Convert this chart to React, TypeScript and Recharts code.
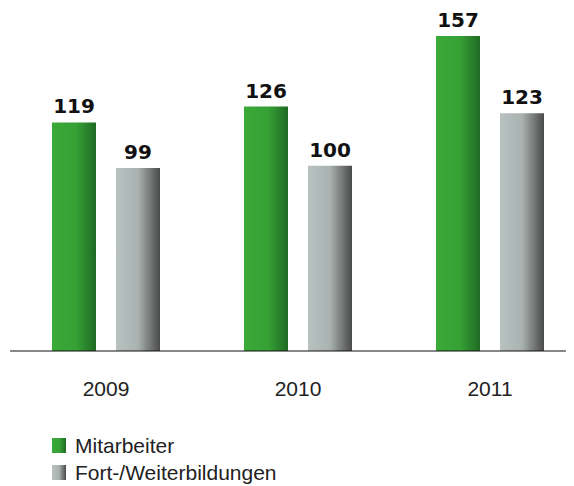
import { BarChart, Bar, XAxis, YAxis, LabelList } from 'recharts';

const years = ['2009', '2010', '2011'];
const mitarbeiter = [119, 126, 157];
const weiterbildungen = [99, 100, 123];

const data = years.map((year, i) => ({
  year,
  mitarbeiter: mitarbeiter[i],
  weiterbildungen: weiterbildungen[i],
}));

const labelStyle = {
  fontFamily: '"DejaVu Sans", sans-serif',
  fontWeight: 700,
  fontSize: 20,
  fill: '#111',
};

const legendItems = [
  { name: 'Mitarbeiter', grad: 'linear-gradient(to right, #3aaa38 0%, #36a035 55%, #1f6a24 100%)' },
  { name: 'Fort-/Weiterbildungen', grad: 'linear-gradient(to right, #b8c2c0 0%, #a9b2b0 50%, #4a4a4a 100%)' },
];

export default function App() {
  return (
    <div style={{ fontFamily: '"Liberation Sans", Arial, sans-serif' }}>
      <style>{'body { overflow: hidden; }'}</style>
      <div style={{ width: 578, height: 403 }}>
        <BarChart
          width={578}
          height={403}
          data={data}
          margin={{ top: 2, right: 0, left: 2, bottom: 0 }}
          barCategoryGap={42}
          barGap={20}
        >
          <defs>
            <linearGradient id="gGreen" x1="0" y1="0" x2="1" y2="0">
              <stop offset="0%" stopColor="#3aaa38" />
              <stop offset="55%" stopColor="#36a035" />
              <stop offset="100%" stopColor="#1f6a24" />
            </linearGradient>
            <linearGradient id="gGray" x1="0" y1="0" x2="1" y2="0">
              <stop offset="0%" stopColor="#b8c2c0" />
              <stop offset="50%" stopColor="#a9b2b0" />
              <stop offset="100%" stopColor="#4a4a4a" />
            </linearGradient>
          </defs>
          <XAxis
            dataKey="year"
            height={60}
            tickLine={false}
            axisLine={{ stroke: '#111', strokeWidth: 1.2 }}
            tickMargin={24}
            tick={{ fontSize: 21, fill: '#222', fontFamily: '"Liberation Sans", Arial, sans-serif' }}
          />
          <YAxis hide domain={[18.6, 168.4]} allowDataOverflow />
          <Bar dataKey="mitarbeiter" fill="url(#gGreen)" barSize={44} isAnimationActive={false}>
            <LabelList dataKey="mitarbeiter" position="top" offset={9} style={labelStyle} />
          </Bar>
          <Bar dataKey="weiterbildungen" fill="url(#gGray)" barSize={44} isAnimationActive={false}>
            <LabelList dataKey="weiterbildungen" position="top" offset={9} style={labelStyle} />
          </Bar>
        </BarChart>
      </div>
      <div style={{ marginTop: 21, marginLeft: 44 }}>
        {legendItems.map((item) => (
          <div key={item.name} style={{ display: 'flex', alignItems: 'center', height: 27 }}>
            <span style={{ display: 'inline-block', width: 14, height: 15, background: item.grad, marginRight: 9 }} />
            <span style={{ fontSize: 21, color: '#222' }}>{item.name}</span>
          </div>
        ))}
      </div>
    </div>
  );
}
